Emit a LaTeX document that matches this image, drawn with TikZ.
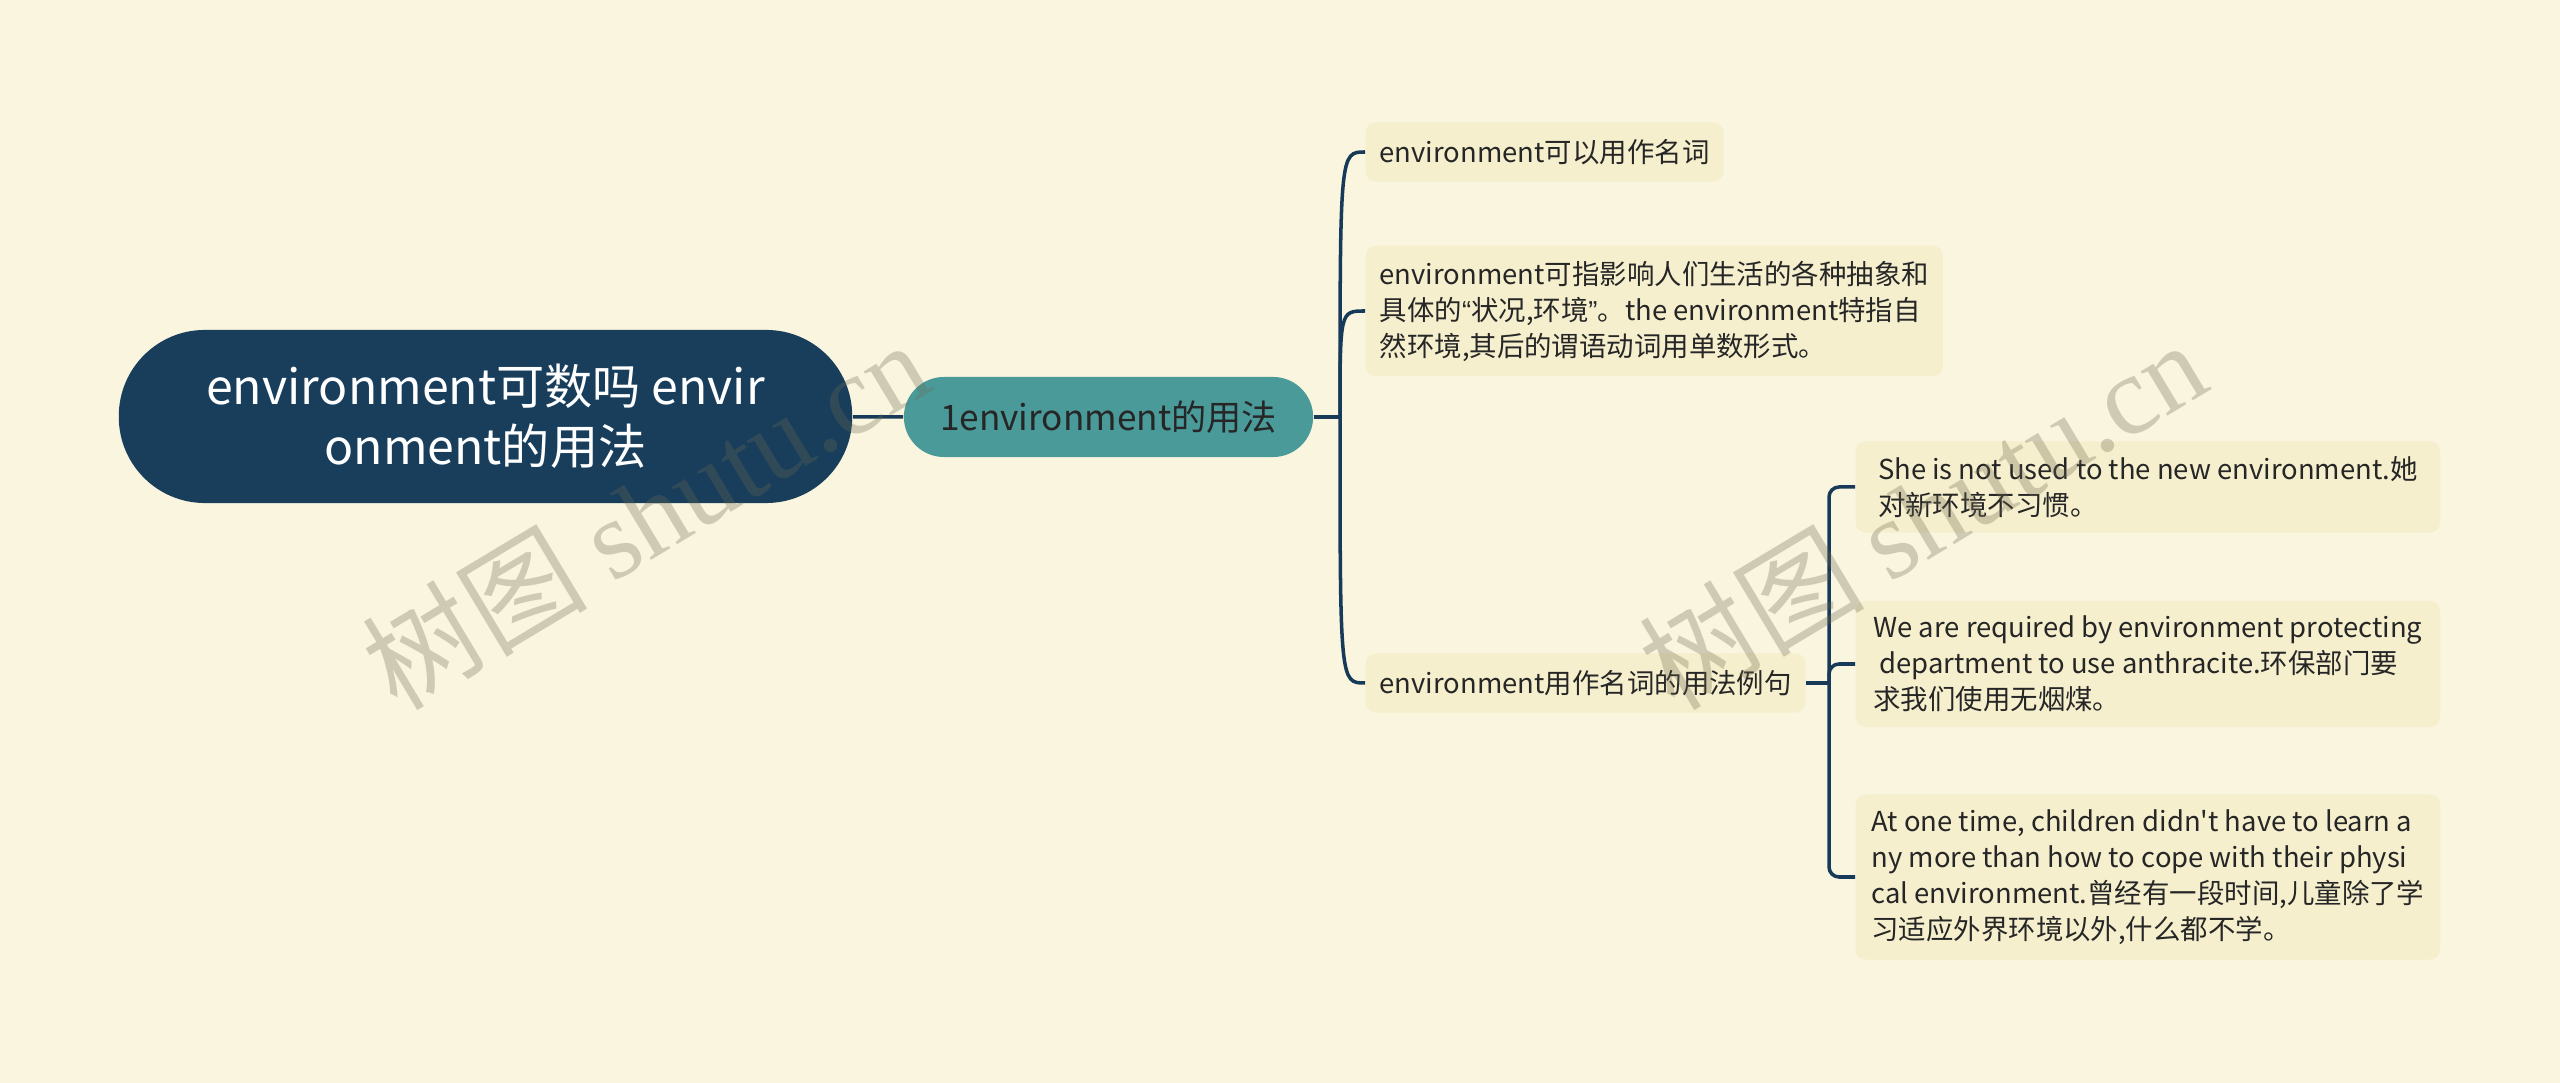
\documentclass[tikz,border=0pt]{standalone}
\usepackage{fontspec}
\setmainfont{Noto Sans CJK SC}
\newfontfamily\plaincjk{Noto Sans CJK SC}
\newfontfamily\latinq{Liberation Sans}
\newfontfamily\wmserif{Liberation Serif}
\usepackage{tikz}
\usetikzlibrary{positioning}

\definecolor{paper}{RGB}{249,245,223}
\definecolor{rootblue}{RGB}{24,62,92}
\definecolor{branchteal}{RGB}{74,154,154}
\definecolor{leafbox}{RGB}{245,239,206}
\definecolor{linkblue}{RGB}{23,58,88}
\definecolor{wmgray}{RGB}{110,105,80}

\tikzset{
  rootnode/.style={fill=rootblue, text=white, rounded corners=0.86cm,
    minimum width=7.33cm, minimum height=1.73cm, align=center,
    font=\fontsize{13.7pt}{17pt}\selectfont},
  branchnode/.style={fill=branchteal, text=black!85, rounded corners=0.4cm,
    minimum width=4.09cm, minimum height=0.8cm,
    font=\fontsize{10pt}{12pt}\selectfont},
  leafnode/.style={fill=leafbox, text=black!85, rounded corners=0.1cm,
    align=left, anchor=west, inner xsep=0.14cm, inner ysep=0.15cm,
    minimum height=0.59cm, font=\fontsize{7.8pt}{10.24pt}\selectfont},
  sentnode/.style={leafnode, minimum width=5.84cm},
  link/.style={draw=linkblue, line width=1pt},
  watermark/.style={text=wmgray, opacity=0.3, rotate=31,
    font=\fontsize{32pt}{32pt}\selectfont}
}

\begin{document}
\begin{tikzpicture}[x=0.01cm, y=-0.01cm]
  \fill[paper] (0,0) rectangle (2560,1083);

  % Root and first branch
  \node[rootnode] (root) at (485.5,416.5) {environment可数吗 envir\\onment的用法};
  \node[branchnode] (branch) at (1108.5,417) {1environment的用法};
  \draw[link] (root) -- (branch);

  % Topics
  \node[leafnode] (usage) at (1365,152) {environment可以用作名词};
  \node[leafnode] (meaning) at (1365,311) {environment可指影响人们生活的各种抽象和\\具体的{\latinq“}状况,环境{\latinq”}。the environment特指自\\然环境,其后的谓语动词用单数形式。};
  \node[leafnode] (example) at (1365,683) {environment用作名词的用法例句};

  \coordinate (hub) at (1340,417);
  \draw[link] (branch.east) -- (hub);
  \foreach \c in {usage,meaning,example}
    \draw[link] (hub) .. controls (hub |- \c.west) and (hub |- \c.west) .. (\c.west);

  % Example sentences
  \node[sentnode] (sent1) at (1855,487) {She is not used to the new environment.她\\对新环境不习惯。};
  \node[sentnode] (sent2) at (1855,664) {We are required by environment protecting\\\mbox{}\ department to use anthracite.环保部门要\\求我们使用无烟煤。};
  \node[sentnode] (sent3) at (1855,877) {At one time, children didn{\plaincjk'}t have to learn a\\ny more than how to cope with their physi\\cal environment.曾经有一段时间,儿童除了学\\习适应外界环境以外,什么都不学。};

  \coordinate (hub2) at (1829,683);
  \draw[link] (example.east) -- (hub2);
  \foreach \g in {sent1,sent2,sent3}
    \draw[link, rounded corners=0.1cm] (hub2) |- (\g.west);

  % Watermarks
  \node[watermark] (wmleft) at (645,514) {树图 {\wmserif shutu.cn}};
  \node[watermark] (wmright) at (1922,514) {树图 {\wmserif shutu.cn}};
\end{tikzpicture}
\end{document}
